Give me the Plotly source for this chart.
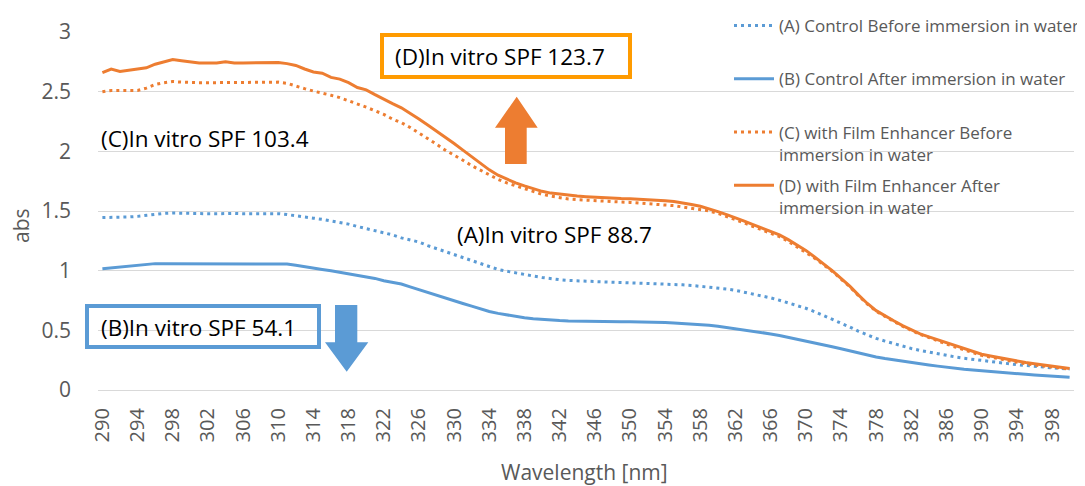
import plotly.graph_objects as go

# ---------------- data ----------------
wavelengths = list(range(290, 401))

tick_values = [290, 294, 298, 302, 306, 310, 314, 318, 322, 326, 330, 334, 338, 342,
               346, 350, 354, 358, 362, 366, 370, 374, 378, 382, 386, 390, 394, 398]
tick_labels = [str(v) for v in tick_values]

y_ticks = [0, 0.5, 1, 1.5, 2, 2.5, 3]
y_tick_labels = ["0", "0.5", "1", "1.5", "2", "2.5", "3"]

# (A) Control Before immersion in water
control_before = [
    1.445, 1.445, 1.445, 1.450, 1.455, 1.465, 1.475, 1.480, 1.483, 1.480,
    1.478, 1.478, 1.477, 1.477, 1.480, 1.480, 1.477, 1.477, 1.480, 1.480,
    1.478, 1.470, 1.462, 1.450, 1.440, 1.430, 1.418, 1.405, 1.390, 1.370,
    1.352, 1.335, 1.318, 1.300, 1.275, 1.255, 1.240, 1.210, 1.185, 1.160,
    1.135, 1.105, 1.080, 1.055, 1.030, 1.010, 0.995, 0.980, 0.968, 0.955,
    0.943, 0.932, 0.924, 0.918, 0.914, 0.910, 0.906, 0.904, 0.903, 0.901,
    0.899, 0.896, 0.894, 0.892, 0.889, 0.885, 0.881, 0.876, 0.869, 0.862,
    0.856, 0.846, 0.835, 0.820, 0.805, 0.790, 0.772, 0.752, 0.730, 0.710,
    0.685, 0.656, 0.625, 0.595, 0.565, 0.528, 0.492, 0.460, 0.432, 0.410,
    0.388, 0.366, 0.348, 0.331, 0.316, 0.301, 0.288, 0.277, 0.266, 0.256,
    0.246, 0.236, 0.227, 0.219, 0.212, 0.206, 0.198, 0.192, 0.186, 0.181,
    0.176,
]

# (B) Control After immersion in water
control_after = [
    1.017, 1.025, 1.033, 1.040, 1.048, 1.055, 1.059, 1.059, 1.059, 1.059,
    1.059, 1.059, 1.059, 1.059, 1.059, 1.059, 1.059, 1.059, 1.059, 1.059,
    1.059, 1.055, 1.045, 1.032, 1.020, 1.010, 1.000, 0.988, 0.975, 0.962,
    0.948, 0.935, 0.915, 0.902, 0.888, 0.864, 0.840, 0.818, 0.796, 0.772,
    0.748, 0.725, 0.703, 0.680, 0.658, 0.642, 0.628, 0.615, 0.605, 0.597,
    0.590, 0.585, 0.582, 0.579, 0.577, 0.575, 0.573, 0.572, 0.572, 0.572,
    0.572, 0.572, 0.571, 0.569, 0.566, 0.562, 0.558, 0.553, 0.548, 0.542,
    0.535, 0.525, 0.516, 0.505, 0.495, 0.483, 0.470, 0.457, 0.442, 0.428,
    0.413, 0.395, 0.378, 0.362, 0.345, 0.327, 0.307, 0.292, 0.277, 0.264,
    0.252, 0.240, 0.229, 0.219, 0.210, 0.200, 0.190, 0.181, 0.174, 0.167,
    0.160, 0.154, 0.148, 0.142, 0.136, 0.131, 0.125, 0.120, 0.115, 0.111,
    0.107,
]

# (C) with Film Enhancer Before immersion in water
enhancer_before = [
    2.500, 2.510, 2.510, 2.510, 2.510, 2.530, 2.560, 2.575, 2.585, 2.580,
    2.575, 2.575, 2.575, 2.575, 2.580, 2.575, 2.575, 2.575, 2.575, 2.580,
    2.580, 2.570, 2.545, 2.525, 2.505, 2.490, 2.470, 2.450, 2.425, 2.400,
    2.370, 2.340, 2.310, 2.270, 2.240, 2.200, 2.155, 2.105, 2.060, 2.010,
    1.970, 1.925, 1.880, 1.840, 1.800, 1.765, 1.735, 1.710, 1.685, 1.660,
    1.640, 1.625, 1.610, 1.600, 1.595, 1.590, 1.585, 1.580, 1.578, 1.575,
    1.572, 1.568, 1.562, 1.557, 1.550, 1.545, 1.535, 1.525, 1.515, 1.500,
    1.480, 1.455, 1.430, 1.400, 1.370, 1.340, 1.315, 1.285, 1.245, 1.200,
    1.155, 1.105, 1.050, 0.995, 0.930, 0.865, 0.790, 0.720, 0.660, 0.615,
    0.575, 0.535, 0.500, 0.465, 0.440, 0.410, 0.385, 0.360, 0.335, 0.310,
    0.290, 0.275, 0.260, 0.245, 0.230, 0.220, 0.210, 0.200, 0.190, 0.180,
    0.175,
]

# (D) with Film Enhancer After immersion in water
enhancer_after = [
    2.660, 2.690, 2.670, 2.680, 2.690, 2.700, 2.730, 2.750, 2.770, 2.760,
    2.750, 2.740, 2.740, 2.740, 2.750, 2.740, 2.740, 2.740, 2.745, 2.745,
    2.745, 2.735, 2.720, 2.690, 2.665, 2.655, 2.620, 2.605, 2.575, 2.535,
    2.515, 2.475, 2.435, 2.400, 2.365, 2.320, 2.270, 2.220, 2.170, 2.115,
    2.065, 2.010, 1.955, 1.895, 1.845, 1.800, 1.765, 1.735, 1.710, 1.685,
    1.665, 1.650, 1.640, 1.630, 1.625, 1.620, 1.615, 1.610, 1.607, 1.605,
    1.603, 1.600, 1.597, 1.590, 1.585, 1.580, 1.570, 1.555, 1.540, 1.520,
    1.495, 1.470, 1.445, 1.415, 1.385, 1.355, 1.330, 1.300, 1.260, 1.215,
    1.170, 1.115, 1.060, 1.000, 0.935, 0.870, 0.795, 0.725, 0.665, 0.620,
    0.580, 0.540, 0.505, 0.470, 0.445, 0.420, 0.395, 0.370, 0.345, 0.320,
    0.300, 0.285, 0.270, 0.255, 0.240, 0.230, 0.220, 0.210, 0.200, 0.190,
    0.180,
]

series_names = [
    "(A) Control Before immersion in water<br> ",
    "(B) Control After immersion in water<br> ",
    "(C) with Film Enhancer Before<br>immersion in water",
    "(D) with Film Enhancer After<br>immersion in water",
]

spf_labels = ["(A)In vitro SPF 88.7", "(B)In vitro SPF 54.1",
              "(C)In vitro SPF 103.4", "(D)In vitro SPF 123.7"]

# ---------------- styling ----------------
BLUE = "#5B9BD5"
ORANGE = "#ED7D31"
BOX_ORANGE = "#FF9B00"
GRID = "#D9D9D9"
TXT = "#595959"
FONT = "Open Sans"

# the page body has an 8px default margin; compensate so the figure lands at the
# same place as the reference image
OFF = 8
W, H = 1085 - OFF, 486 - OFF
# plot area in reference-image pixels
PLOT_L, PLOT_R, PLOT_T, PLOT_B = 98, 1074, 32, 390
ML, MT = PLOT_L - OFF, PLOT_T - OFF
MR, MB = W - (PLOT_R - OFF), H - (PLOT_B - OFF)
PW, PH = PLOT_R - PLOT_L, PLOT_B - PLOT_T


def P(px, py):
    """reference-image pixel -> paper coordinates (decorations only)"""
    return (px - PLOT_L) / PW, (PLOT_B - py) / PH


def poly(points):
    pts = [P(x, y) for x, y in points]
    return "M " + " L ".join(f"{x:.5f},{y:.5f}" for x, y in pts) + " Z"


DOT = "3px,4px"

fig = go.Figure()
series = [
    (control_before, series_names[0], BLUE, DOT),
    (control_after, series_names[1], BLUE, "solid"),
    (enhancer_before, series_names[2], ORANGE, DOT),
    (enhancer_after, series_names[3], ORANGE, "solid"),
]
for i, (vals, name, col, dash) in enumerate(series):
    fig.add_trace(go.Scatter(
        x=wavelengths, y=vals, mode="lines", name=name,
        legendgroup=f"g{i}",
        line=dict(color=col, width=3, dash=dash),
        hoverinfo="x+y",
    ))

shapes = [
    # (D) box
    dict(type="rect", xref="paper", yref="paper",
         x0=P(382, 0)[0], x1=P(630, 0)[0], y0=P(0, 77)[1], y1=P(0, 35)[1],
         line=dict(color=BOX_ORANGE, width=4), fillcolor="rgba(0,0,0,0)"),
    # (B) box
    dict(type="rect", xref="paper", yref="paper",
         x0=P(87, 0)[0], x1=P(319, 0)[0], y0=P(0, 347)[1], y1=P(0, 306)[1],
         line=dict(color=BLUE, width=4), fillcolor="rgba(0,0,0,0)"),
    # orange up arrow
    dict(type="path", xref="paper", yref="paper",
         path=poly([(505, 164), (505, 127.7), (495, 127.7), (516.7, 96.7),
                    (537.7, 127.7), (526.7, 127.7), (526.7, 164)]),
         fillcolor=ORANGE, line=dict(width=0)),
    # blue down arrow
    dict(type="path", xref="paper", yref="paper",
         path=poly([(335, 305), (335, 342.3), (325, 342.3), (346.7, 371.7),
                    (368.3, 342.3), (357.3, 342.3), (357.3, 305)]),
         fillcolor=BLUE, line=dict(width=0)),
]

ann_font = dict(family=FONT, size=22.5, color="#000000")
annotations = [
    dict(text=spf_labels[3], x=P(393, 0)[0], y=P(0, 56)[1]),
    dict(text=spf_labels[2], x=P(99, 0)[0], y=P(0, 138)[1]),
    dict(text=spf_labels[0], x=P(455, 0)[0], y=P(0, 234)[1]),
    dict(text=spf_labels[1], x=P(99, 0)[0], y=P(0, 327)[1]),
]
annotations = [dict(a, xref="paper", yref="paper", xanchor="left", yanchor="middle",
                    showarrow=False, font=ann_font) for a in annotations]
annotations += [
    dict(text="abs", xref="paper", yref="paper", x=P(21, 0)[0], y=P(0, 226)[1],
         textangle=-90, showarrow=False, xanchor="center", yanchor="middle",
         font=dict(family=FONT, size=21, color=TXT)),
    dict(text="Wavelength [nm]", xref="paper", yref="paper", x=P(584, 0)[0], y=P(0, 472)[1],
         showarrow=False, xanchor="center", yanchor="middle",
         font=dict(family=FONT, size=21, color=TXT)),
]

fig.update_layout(
    width=W, height=H,
    margin=dict(l=ML, r=MR, t=MT, b=MB, pad=0, autoexpand=False),
    paper_bgcolor="white", plot_bgcolor="white",
    font=dict(family=FONT, color=TXT),
    showlegend=True,
    legend=dict(
        xref="container", yref="container",
        x=(729 - OFF) / W, y=1 + 4 / H, xanchor="left", yanchor="top",
        bgcolor="rgba(0,0,0,0)", borderwidth=0,
        font=dict(family=FONT, size=17, color=TXT),
        tracegroupgap=6, valign="top", itemwidth=40,
    ),
    shapes=shapes,
    annotations=annotations,
    xaxis=dict(
        range=[289.5, 400.5], tickmode="array", tickvals=tick_values, ticktext=tick_labels,
        tickangle=-90, showgrid=False, zeroline=False,
        showline=True, linecolor=GRID, linewidth=1.3,
        ticks="", tickfont=dict(family=FONT, size=20, color=TXT),
        ticklabelstandoff=9,
    ),
    yaxis=dict(
        range=[0, 3], tickmode="array", tickvals=y_ticks, ticktext=y_tick_labels,
        showgrid=True, gridcolor=GRID, gridwidth=1.3, zeroline=False,
        showline=False, ticks="", tickfont=dict(family=FONT, size=21, color=TXT),
        ticklabelstandoff=26,
    ),
)

fig.write_html("out.html")
